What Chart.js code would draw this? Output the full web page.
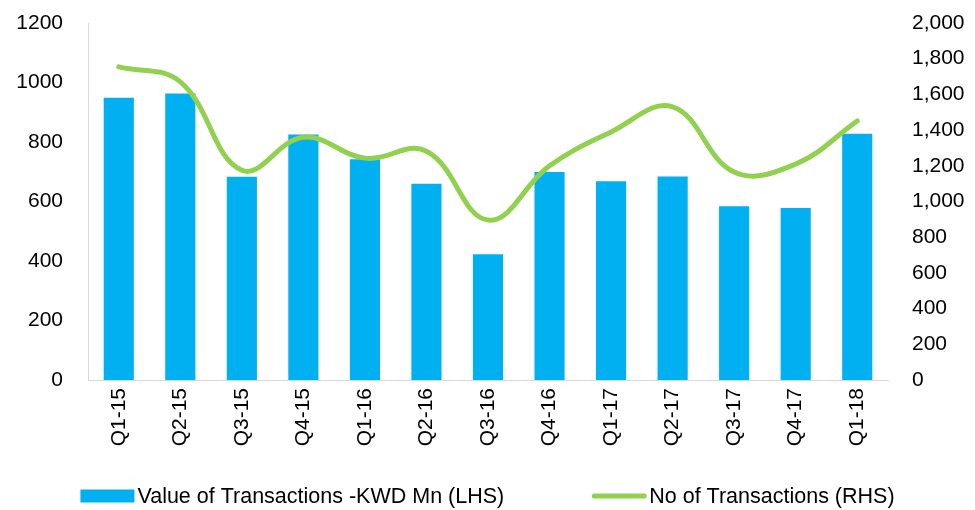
<!DOCTYPE html>
<html>
<head>
<meta charset="utf-8">
<script src="https://cdn.jsdelivr.net/npm/chart.js@4/dist/chart.umd.min.js"></script>
<style>
    html, body { margin: 0; padding: 0; background: #fff; }
    #wrap { width: 975px; height: 510px; position: relative; }
</style>
</head>
<body>
<div id="wrap"><canvas id="txnChart"></canvas></div>
<script>
// Quarterly data
const quarters = ['Q1-15', 'Q2-15', 'Q3-15', 'Q4-15', 'Q1-16', 'Q2-16', 'Q3-16',
    'Q4-16', 'Q1-17', 'Q2-17', 'Q3-17', 'Q4-17', 'Q1-18'];
const valueKwdMn = [949, 963, 683, 825, 742, 660, 423, 699, 668, 684, 584, 578, 828];
const noOfTransactions = [1754, 1670, 1175, 1360, 1243, 1282, 896, 1200, 1390, 1530, 1165, 1210, 1451];
const leftTicks = { min: 0, max: 1200, step: 200 };
const rightTicks = { min: 0, max: 2000, step: 200 };

const BLUE = '#00B0F0';
const GREEN = '#92D050';
const FONT = "'Liberation Sans', Arial, sans-serif";

Chart.defaults.font.family = FONT;
Chart.defaults.font.size = 21;
Chart.defaults.color = '#000';

// Legend drawn by hand: Excel style, wide gap between the two entries
const bottomLegend = {
    id: 'bottomLegend',
    afterDraw(chart) {
        const ctx = chart.ctx;
        const y = 496;
        const gap = 3, swatch = 54, spacing = 88;
        ctx.save();
        ctx.font = '21.5px ' + FONT;
        ctx.textBaseline = 'middle';
        ctx.fillStyle = '#000';
        const items = chart.data.datasets.slice().reverse();
        const widths = items.map(ds => swatch + gap + ctx.measureText(ds.label).width);
        const total = widths.reduce((a, b) => a + b, 0) + spacing * (items.length - 1);
        let x = (chart.width - total) / 2;
        items.forEach((ds, i) => {
            if (ds.type === 'line') {
                ctx.strokeStyle = ds.borderColor;
                ctx.lineWidth = ds.borderWidth;
                ctx.lineCap = 'round';
                ctx.beginPath();
                ctx.moveTo(x + 2, y);
                ctx.lineTo(x + swatch - 2, y);
                ctx.stroke();
            } else {
                ctx.fillStyle = ds.backgroundColor;
                ctx.fillRect(x, y - 6.5, swatch, 13);
            }
            ctx.fillStyle = '#000';
            ctx.fillText(ds.label, x + swatch + gap, y + 1);
            x += widths[i] + spacing;
        });
        ctx.restore();
    }
};

// fixed widths so the plot area lines up with the reference
function fixWidth(w) {
    return (scale) => {
        scale.width = w;
        scale.paddingTop = 0;
        scale.paddingBottom = 0;
    };
}

new Chart(document.getElementById('txnChart').getContext('2d'), {
    type: 'bar',
    data: {
        labels: quarters,
        datasets: [{
            // line first so it is painted over the bars
            type: 'line',
            label: 'No of Transactions (RHS)',
            data: noOfTransactions,
            yAxisID: 'yRight',
            borderColor: GREEN,
            backgroundColor: GREEN,
            borderWidth: 5,
            tension: 0.4,
            pointRadius: 0,
            borderCapStyle: 'round'
        }, {
            type: 'bar',
            label: 'Value of Transactions -KWD Mn (LHS)',
            data: valueKwdMn,
            yAxisID: 'yLeft',
            backgroundColor: BLUE,
            borderWidth: 0,
            categoryPercentage: 1,
            barPercentage: 0.49
        }]
    },
    options: {
        responsive: true,
        maintainAspectRatio: false,
        animation: false,
        layout: { padding: { top: 23, bottom: 40, left: 0, right: 0 } },
        plugins: {
            tooltip: { enabled: false },
            legend: { display: false }
        },
        scales: {
            x: {
                grid: { display: false, drawTicks: false },
                border: { display: true, color: '#D9D9D9', width: 1 },
                ticks: { minRotation: 90, maxRotation: 90, padding: 8, autoSkip: false },
                afterFit: (scale) => { scale.height = 90; }
            },
            yLeft: {
                position: 'left',
                min: leftTicks.min,
                max: leftTicks.max,
                grid: { display: false, drawTicks: false },
                border: { display: true, color: '#D9D9D9', width: 1 },
                ticks: {
                    stepSize: leftTicks.step,
                    padding: 25,
                    autoSkip: false,
                    callback: (value) => String(value)
                },
                afterFit: fixWidth(88)
            },
            yRight: {
                position: 'right',
                min: rightTicks.min,
                max: rightTicks.max,
                grid: { display: false, drawTicks: false },
                border: { display: false },
                ticks: {
                    stepSize: rightTicks.step,
                    padding: 24,
                    autoSkip: false,
                    callback: (value) => value.toLocaleString('en-US')
                },
                afterFit: fixWidth(87)
            }
        }
    },
    plugins: [bottomLegend]
});
</script>
</body>
</html>
